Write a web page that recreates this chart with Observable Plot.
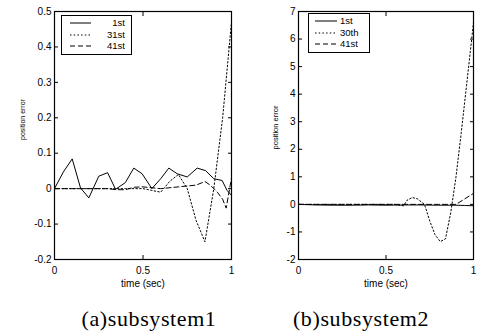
<!DOCTYPE html>
<html><head><meta charset="utf-8">
<script src="https://cdn.jsdelivr.net/npm/d3@7"></script>
<script src="https://cdn.jsdelivr.net/npm/@observablehq/plot@0.6"></script>
<style>
body{margin:0;background:#fff;width:481px;height:335px;overflow:hidden;font-family:"Liberation Sans",Arial,sans-serif}
#wrap{position:relative;width:481px;height:335px}
.panel{position:absolute;top:0}
.legend{position:absolute;border:1px solid #000;background:#fff;font-size:9.5px;box-sizing:border-box;padding-top:2px}
.legend .row{position:relative;height:11.5px}
.legend svg{position:absolute;top:3px}
.legend span{position:absolute;top:-1px;line-height:11px}
.cap{position:absolute;top:306px;font-family:"Liberation Serif","Times New Roman",serif;font-size:22px;letter-spacing:0.6px;color:#000;white-space:nowrap;transform:translateX(-50%)}
</style></head><body>
<div id="wrap"></div>
<script>
// ---- data ----
const t1st_a = [0,0.05,0.10,0.147,0.194,0.25,0.30,0.345,0.40,0.448,0.495,0.55,0.60,0.646,0.693,0.75,0.806,0.853,0.90,0.947,0.975,1.0];
const e1st_a = [0,0.047,0.084,0.002,-0.026,0.035,0.045,-0.002,0.017,0.058,0.042,0,0.028,0.058,0.042,0.033,0.058,0.051,0.028,0.023,-0.005,-0.019];
const t31_a = [0,0.1,0.2,0.3,0.4,0.5,0.55,0.6,0.65,0.7,0.75,0.8,0.85,0.9,0.95,1.0];
const e31_a = [0,0,0,0,0,0,-0.005,-0.01,0.02,0.04,0.0,-0.09,-0.15,0.0,0.2,0.47];
const t41_a = [0,0.1,0.2,0.3,0.35,0.4,0.45,0.5,0.6,0.7,0.8,0.85,0.88,0.92,0.95,0.97,1.0];
const e41_a = [0,0,0,0,-0.003,-0.003,0.004,0.005,0,0.005,0.01,0.02,0.01,-0.01,-0.03,-0.055,0.03];

const t1st_b = [0,0.1,0.2,0.3,0.4,0.5,0.6,0.7,0.8,0.9,0.95,1.0];
const e1st_b = [0,-0.02,-0.03,-0.03,-0.02,-0.03,-0.02,-0.02,-0.03,-0.03,-0.04,-0.05];
const t30_b = [0,0.1,0.2,0.3,0.4,0.5,0.55,0.6,0.62,0.65,0.68,0.72,0.75,0.78,0.81,0.84,0.87,0.9,0.93,0.96,1.0];
const e30_b = [0,0,0,0,0,0,0,-0.05,0.15,0.25,0.2,0,-0.6,-1.1,-1.35,-1.25,-0.3,1.0,2.6,4.3,6.6];
const t41_b = [0,0.2,0.4,0.6,0.8,0.9,0.95,1.0];
const e41_b = [0,0,0,0,0,0,0.2,0.4];

const xTicks = [0, 0.5, 1];
const yTicksA = [-0.2,-0.1,0,0.1,0.2,0.3,0.4,0.5];
const yTicksB = [-2,-1,0,1,2,3,4,5,6,7];
const legendA = ["1st","31st","41st"];
const legendB = ["1st","30th","41st"];
const captions = ["(a)subsystem1","(b)subsystem2"];
const dashes = [null, "1.5,2.2", "5,3"];

function zip(t, e){ return t.map((x,i)=>({t:x, e:e[i]})); }

function panel(series, yDomain, yTicks, yFmt, w, ml, mr, labelOffset){
  return Plot.plot({
    width: w, height: 290,
    marginLeft: ml, marginRight: mr, marginTop: 11, marginBottom: 31,
    style: {fontFamily: '"Liberation Sans", Arial, sans-serif', fontSize: "10px", color: "#000", background: "#fff", overflow: "visible"},
    x: {domain: [0,1]},
    y: {domain: yDomain},
    marks: [
      Plot.frame({stroke:"#000", strokeWidth:1.2}),
      Plot.axisX(xTicks, {anchor:"bottom", tickSize:-4, tickPadding:11, tickFormat: d=>String(d), label:"time (sec)", labelAnchor:"center", labelOffset:27, labelArrow:"none", fontSize:10}),
      Plot.axisX(xTicks, {anchor:"top", tickSize:-4, tickFormat: () => "", label:null}),
      Plot.axisY(yTicks, {anchor:"left", tickSize:-4, tickPadding:7, tickFormat: yFmt, label:"position error", labelAnchor:"center", labelOffset: labelOffset, labelArrow:"none", fontSize:10}),
      Plot.axisY(yTicks, {anchor:"right", tickSize:-4, tickFormat: () => "", label:null}),
      ...series.map((s,i)=>Plot.line(zip(s[0], s[1]), {x:"t", y:"e", stroke:"#000", strokeWidth:1, strokeDasharray: dashes[i]}))
    ]
  });
}

const wrap = document.getElementById("wrap");
function place(svg, left, yLabFont, yLabShift){
  const d = document.createElement("div"); d.className="panel"; d.style.left = left+"px"; d.appendChild(svg); wrap.appendChild(d);
  const g = svg.querySelector("[aria-label='y-axis label']");
  if (g) {
    g.setAttribute("font-size", yLabFont);
    g.querySelectorAll("text").forEach(n=>n.setAttribute("font-size", yLabFont));
    const tr = g.getAttribute("transform") || "";
    g.setAttribute("transform", `translate(0,${yLabShift}) ` + tr);
  }
}
const pA = panel([[t1st_a,e1st_a],[t31_a,e31_a],[t41_a,e41_a]], [-0.2,0.5], yTicksA, d=>Math.abs(d)<1e-9 ? "0" : d.toFixed(1), 240, 54, 9, 34);
const pB = panel([[t1st_b,e1st_b],[t30_b,e30_b],[t41_b,e41_b]], [-2,7], yTicksB, d=>String(d), 241, 58, 8, 26);
place(pA, 0, 7, -16);
place(pB, 240, 7.5, -8);

function legend(labels, o){
  const L = document.createElement("div"); L.className="legend";
  L.style.left = o.left+"px"; L.style.top = o.top+"px"; L.style.width = o.width+"px"; L.style.height = o.height+"px";
  const ns="http://www.w3.org/2000/svg";
  labels.forEach((lab,i)=>{
    const row = document.createElement("div"); row.className="row";
    const s = document.createElementNS(ns,"svg"); s.setAttribute("width", o.line); s.setAttribute("height","4");
    s.style.left = o.pad+"px";
    const ln = document.createElementNS(ns,"line"); ln.setAttribute("x1","0"); ln.setAttribute("x2", o.line); ln.setAttribute("y1","2"); ln.setAttribute("y2","2");
    ln.setAttribute("stroke","#000"); ln.setAttribute("stroke-width","1"); if (dashes[i]) ln.setAttribute("stroke-dasharray", dashes[i]);
    s.appendChild(ln); row.appendChild(s);
    const tx = document.createElement("span"); tx.textContent = lab;
    if (o.alignRight) tx.style.right = o.textRight+"px"; else tx.style.left = o.textLeft+"px";
    row.appendChild(tx);
    L.appendChild(row);
  });
  wrap.appendChild(L);
}
legend(legendA, {left:61, top:15, width:71, height:40, pad:8, line:21, alignRight:true, textRight:6});
legend(legendB, {left:308, top:13, width:62, height:40, pad:6, line:22, alignRight:false, textLeft:31});

captions.forEach((c,i)=>{
  const d = document.createElement("div"); d.className="cap"; d.textContent=c;
  d.style.left = (i===0 ? 149 : 361)+"px"; wrap.appendChild(d);
});
</script>
</body></html>
